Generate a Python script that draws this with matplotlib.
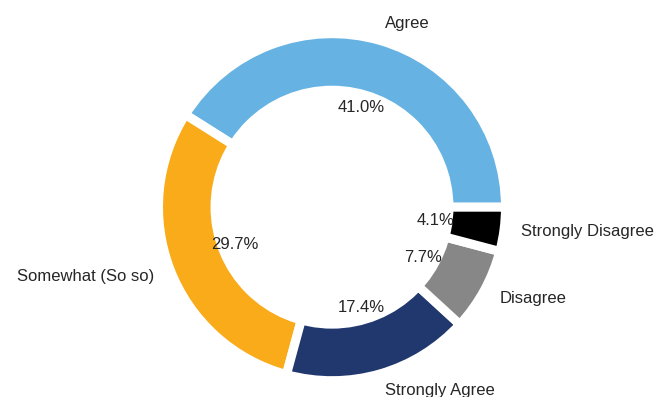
import matplotlib
matplotlib.use("Agg")
import matplotlib.pyplot as plt

plt.rcParams['font.family'] = ['Liberation Sans', 'DejaVu Sans']

# survey responses, share of answers (%)
labels = ['Agree', 'Somewhat (So so)', 'Strongly Agree', 'Disagree', 'Strongly Disagree']
shares = [41.0, 29.7, 17.4, 7.7, 4.1]
colors = ['#66b3e3', '#f9ab1a', '#21386e', '#878787', '#000000']

fig = plt.figure(figsize=(6.68, 3.97), dpi=100)
ax = fig.add_axes([0, 0, 1, 1])

wedges, texts, autotexts = ax.pie(
    shares, labels=labels, colors=colors, autopct='%1.1f%%',
    startangle=0, pctdistance=0.6, labeldistance=1.1,
    wedgeprops=dict(edgecolor='white', linewidth=6.5),
    textprops=dict(fontsize=12, color='#262626'))

# white hole in the middle turns the pie into a ring
centre_circle = plt.Circle((0, 0), 0.70, fc='white')
ax.add_artist(centre_circle)

ax.set_aspect('auto')
ax.set_xlim(-1.9135, 1.9366)
ax.set_ylim(-1.094, 1.194)
ax.axis('off')

fig.savefig('out.png', dpi=100)
